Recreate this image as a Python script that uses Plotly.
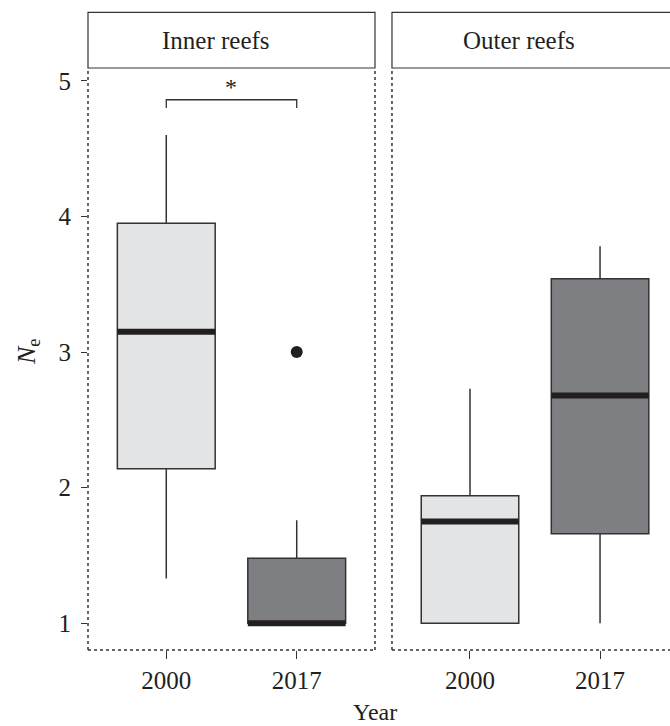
import plotly.graph_objects as go

# Effective population size (N_e) by sampling year, split by reef position
years = ["2000", "2017"]
panels = ["Inner reefs", "Outer reefs"]

# Box statistics per panel, ordered by year
inner_q1 = [2.14, 1.00]
inner_median = [3.15, 1.00]
inner_q3 = [3.95, 1.48]
inner_low = [1.33, 1.00]
inner_high = [4.60, 1.76]
inner_outliers_x = ["2017"]
inner_outliers_y = [3.00]

outer_q1 = [1.00, 1.66]
outer_median = [1.75, 2.68]
outer_q3 = [1.94, 3.54]
outer_low = [1.00, 1.00]
outer_high = [2.73, 3.78]

# Significance bracket between the two inner-reef years
bracket_low = 4.80
bracket_high = 4.86
bracket_label = "*"

fills = ["#e3e4e6", "#7e7f82"]
ink = "#231f20"
font_family = "Liberation Serif, Times New Roman, serif"
box_width = 0.75

fig = go.Figure()

stats = [
    (inner_q1, inner_median, inner_q3, inner_low, inner_high, "x", "y"),
    (outer_q1, outer_median, outer_q3, outer_low, outer_high, "x2", "y2"),
]

for q1, med, q3, lo, hi, xa, ya in stats:
    for i, yr in enumerate(years):
        fig.add_trace(go.Box(
            x=[i], q1=[q1[i]], median=[med[i]], q3=[q3[i]],
            lowerfence=[lo[i]], upperfence=[hi[i]],
            width=box_width, whiskerwidth=0, boxpoints=False,
            fillcolor=fills[i], line=dict(color="#333333", width=1.5),
            xaxis=xa, yaxis=ya, showlegend=False, hoverinfo="skip",
        ))

# Thick median bars drawn on top of each box
for q1, med, q3, lo, hi, xa, ya in stats:
    for i, yr in enumerate(years):
        fig.add_trace(go.Scatter(
            x=[i - box_width / 2, i + box_width / 2], y=[med[i], med[i]],
            mode="lines", line=dict(color=ink, width=6),
            xaxis=xa, yaxis=ya, showlegend=False, hoverinfo="skip",
        ))

# Outlying observation
fig.add_trace(go.Scatter(
    x=[years.index(v) for v in inner_outliers_x], y=inner_outliers_y,
    mode="markers", marker=dict(color=ink, size=12),
    xaxis="x", yaxis="y", showlegend=False, hoverinfo="skip",
))

# Bracket with significance marker
fig.add_trace(go.Scatter(
    x=[0, 0, 1, 1], y=[bracket_low, bracket_high, bracket_high, bracket_low],
    mode="lines", line=dict(color="#333333", width=1.3),
    xaxis="x", yaxis="y", showlegend=False, hoverinfo="skip",
))
fig.add_annotation(
    x=0.5, y=bracket_high, xref="x", yref="y", text=bracket_label,
    showarrow=False, yanchor="bottom", yshift=-2,
    font=dict(family=font_family, size=24, color=ink),
)

y_range = [0.803, 5.094]
left_dom = [0.0, 0.4931]
right_dom = [0.5223, 1.0]

axis_common = dict(
    showgrid=False, zeroline=False, showline=False,
    ticks="outside", ticklen=8, tickwidth=1.2, tickcolor="#333333",
    tickfont=dict(family=font_family, size=25, color=ink),
)

fig.update_layout(
    width=670, height=726,
    margin=dict(l=88, r=0, t=68, b=76),
    paper_bgcolor="white", plot_bgcolor="white",
    xaxis=dict(domain=left_dom, range=[-0.6, 1.6], tickvals=[0, 1],
               ticktext=years, **axis_common),
    xaxis2=dict(domain=right_dom, range=[-0.6, 1.538], tickvals=[0, 1],
                ticktext=years, **axis_common),
    yaxis=dict(domain=[0, 1], range=y_range, tickvals=[1, 2, 3, 4, 5],
               ticklabelstandoff=5, **{**axis_common, "ticklen": 6}),
    yaxis2=dict(domain=[0, 1], range=y_range, anchor="x2", matches="y",
                showticklabels=False, showgrid=False, zeroline=False,
                showline=False, ticks=""),
)

# Panel frames (dotted) and strip headers (solid)
strip_top = 1 + 55.6 / 582
for dom in (left_dom, right_dom):
    x0, x1 = dom
    frame = dict(type="line", xref="paper", yref="paper",
                 line=dict(color="#333333", width=1.5, dash="dot"))
    fig.add_shape(x0=x0, x1=x0, y0=0, y1=1, **frame)
    fig.add_shape(x0=x0, x1=x1 if x1 < 1 else 1.02, y0=0, y1=0, **frame)
    if x1 < 1:
        fig.add_shape(x0=x1, x1=x1, y0=0, y1=1, **frame)
    fig.add_shape(type="rect", xref="paper", yref="paper",
                  x0=x0, x1=x1 if x1 < 1 else 1.02, y0=1, y1=strip_top,
                  line=dict(color="#333333", width=1.2), fillcolor="white")

for name, xr in zip(panels, ["x", "x2"]):
    fig.add_annotation(
        x=0.38, y=(1 + strip_top) / 2, xref=xr, yref="paper", text=name,
        showarrow=False, yanchor="middle",
        font=dict(family=font_family, size=25, color=ink),
    )

# Axis titles
fig.add_annotation(
    x=-60 / 582, y=3, xref="paper", yref="y", text="<i>N</i><sub>e</sub>",
    showarrow=False, textangle=-90, xanchor="center", yanchor="middle",
    font=dict(family=font_family, size=26, color=ink),
)
fig.add_annotation(
    x=(375 - 88) / 582, y=-(712 - 650) / 582, xref="paper", yref="paper",
    text="Year", showarrow=False, xanchor="center", yanchor="middle",
    font=dict(family=font_family, size=24, color=ink),
)

fig.write_html("out.html")
